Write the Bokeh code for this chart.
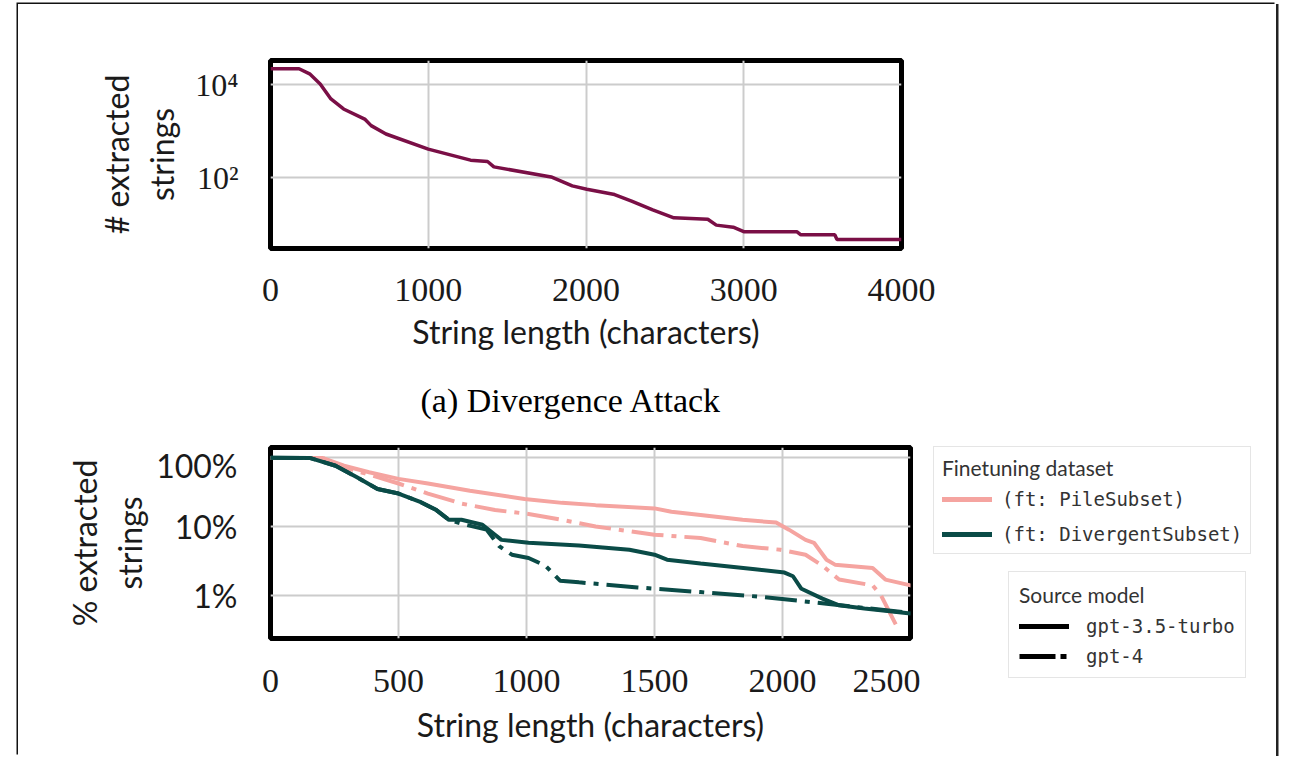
from bokeh.plotting import figure
from bokeh.models import FixedTicker, Legend, LegendItem, Title, Range1d, Spacer
from bokeh.layouts import column, row
from bokeh.embed import file_html
from bokeh.resources import INLINE

# ---- data: (a) divergence attack ----
top_len = [0, 181, 248, 315, 383, 463, 597, 638, 732, 1000, 1268, 1376, 1416, 1779, 1913,
           2005, 2181, 2289, 2423, 2557, 2772, 2826, 2933, 3000, 3336, 3362, 3577, 3591, 4000]
top_count = [22300, 22300, 17300, 10500, 4980, 3020, 1830, 1320, 870, 410, 237, 222, 170, 103, 66,
             56, 43, 31, 20, 13.5, 12.6, 9.4, 8.5, 6.8, 6.8, 5.8, 5.8, 4.6, 4.6]

# ---- data: finetuning ----
pile35_len = [0, 205, 287, 385, 500, 615, 779, 992, 1139, 1270, 1500, 1566, 1680, 1844, 1975,
              2025, 2090, 2123, 2172, 2205, 2352, 2402, 2500]
pile35_pct = [98, 98, 76, 61, 49, 42, 33, 25, 22, 20.4, 18.3, 16.4, 14.7, 12.5, 11.4,
              9.0, 6.4, 5.8, 3.3, 2.8, 2.5, 1.7, 1.4]
pile4_len = [0, 205, 287, 418, 500, 615, 746, 877, 1008, 1139, 1270, 1500, 1680, 1844, 1992,
             2090, 2156, 2221, 2352, 2385, 2451]
pile4_pct = [98, 98, 72, 52, 42, 30, 21.5, 17.3, 15.2, 12.5, 10, 7.6, 6.8, 5.2, 4.6,
             3.9, 2.7, 1.7, 1.4, 1.0, 0.33]
div35_len = [0, 156, 254, 336, 418, 500, 582, 648, 697, 746, 828, 877, 902, 1008, 1205, 1402,
             1500, 1549, 1680, 1893, 2008, 2041, 2074, 2156, 2221, 2320, 2500]
div35_pct = [99, 98, 76, 52, 35, 30, 23, 17.3, 12.5, 12.5, 10.6, 7.6, 6.4, 5.8, 5.3, 4.6,
             3.9, 3.3, 2.9, 2.4, 2.15, 1.9, 1.25, 0.9, 0.72, 0.65, 0.55]
div4_len = [0, 156, 254, 336, 418, 500, 582, 648, 697, 762, 844, 893, 943, 1008, 1074, 1131,
            1205, 1434, 1680, 1926, 2172, 2336, 2500]
div4_pct = [99, 98, 76, 52, 35, 30, 23, 17.3, 12.5, 10.6, 9.0, 5.2, 3.9, 3.5, 2.7, 1.64,
            1.55, 1.31, 1.12, 0.95, 0.76, 0.65, 0.56]

top_xticks = [0, 1000, 2000, 3000, 4000]
top_yticks = {100: "10²", 10000: "10⁴"}
bot_xticks = [0, 500, 1000, 1500, 2000, 2500]
bot_yticks = {1: "1%", 10: "10%", 100: "100%"}

MAROON = "#7a0f46"
PINK = "#f5a4a0"
TEAL = "#0a4b47"
TXT = "#1a1a1a"
SANS = "Lato"
SERIF = "Liberation Serif"
MONO = "DejaVu Sans Mono"


def style(p, xticks, yticks, ysans, ystandoff, ylabstandoff, xstandoff, xlabstandoff):
    p.outline_line_color = "black"
    p.outline_line_width = 5
    for ax in (p.xaxis[0], p.yaxis[0]):
        ax.axis_line_color = None
        ax.major_tick_line_color = None
        ax.minor_tick_line_color = None
        ax.major_label_text_color = TXT
        ax.axis_label_text_color = TXT
        ax.axis_label_text_font = SANS
        ax.axis_label_text_font_style = "normal"
        ax.axis_label_text_font_size = "32px"
        ax.axis_label_text_line_height = 1.15
    p.xaxis[0].ticker = FixedTicker(ticks=xticks)
    p.xaxis[0].major_label_text_font = SERIF
    p.xaxis[0].major_label_text_font_size = "34px"
    p.xaxis[0].major_label_standoff = xstandoff
    p.xaxis[0].axis_label_standoff = xlabstandoff
    p.yaxis[0].ticker = FixedTicker(ticks=list(yticks.keys()))
    p.yaxis[0].major_label_overrides = yticks
    p.yaxis[0].major_label_text_font = SANS if ysans else SERIF
    p.yaxis[0].major_label_text_font_size = "32px"
    p.yaxis[0].major_label_standoff = ystandoff
    p.yaxis[0].axis_label_standoff = ylabstandoff
    p.xgrid.grid_line_color = "#cccccc"
    p.ygrid.grid_line_color = "#cccccc"
    p.xgrid.grid_line_width = 2
    p.ygrid.grid_line_width = 2
    p.background_fill_color = "white"
    p.border_fill_color = "white"


p1 = figure(frame_width=631, frame_height=188, min_border_left=252, min_border_right=375,
            min_border_top=56, min_border_bottom=150, y_axis_type="log",
            x_range=Range1d(0, 4000), y_range=Range1d(2.94, 33600),
            output_backend="svg", toolbar_location=None)
p1.line(top_len, top_count, color=MAROON, line_width=3.5)
p1.xaxis[0].axis_label = "String length (characters)"
p1.yaxis[0].axis_label = "# extracted\nstrings"
style(p1, top_xticks, top_yticks, False, 26, 11, 24, 8)
p1.add_layout(Title(text="(a) Divergence Attack", align="left", offset=150,
                    text_font=SERIF, text_font_size="34px", text_font_style="normal",
                    text_color="black", standoff=53), "below")

p2 = figure(frame_width=640, frame_height=191, min_border_left=252, min_border_right=10,
            min_border_top=2, min_border_bottom=108, y_axis_type="log",
            x_range=Range1d(0, 2500), y_range=Range1d(0.238, 139.6),
            output_backend="svg", toolbar_location=None)
p2.line(pile35_len, pile35_pct, color=PINK, line_width=4, line_cap="round")
p2.line(pile4_len, pile4_pct, color=PINK, line_width=4, line_dash="32 8 5 8")
p2.line(div35_len, div35_pct, color=TEAL, line_width=4, line_cap="round")
p2.line(div4_len, div4_pct, color=TEAL, line_width=4, line_dash="32 8 5 8")
p2.xaxis[0].axis_label = "String length (characters)"
p2.yaxis[0].axis_label = "% extracted\nstrings"
style(p2, bot_xticks, bot_yticks, True, 27, 4, 25, 10)

# legend panel (separate canvas to the right of the lower plot)
pl = figure(width=356, height=301, min_border=0, min_border_left=0, min_border_right=0,
            min_border_top=0, min_border_bottom=0,
            x_axis_location=None, y_axis_location=None,
            x_range=Range1d(0, 1), y_range=Range1d(0, 1),
            output_backend="svg", toolbar_location=None)
pl.frame_align = False
pl.outline_line_color = None
pl.xgrid.visible = False
pl.ygrid.visible = False
pl.background_fill_color = "white"
pl.border_fill_color = "white"
# legend handles: placeholders lying outside the visible range
hx = [-2, -1]
hy = [-2, -2]
h_pile = pl.line(hx, hy, color=PINK, line_width=5, line_cap="round")
h_div = pl.line(hx, hy, color=TEAL, line_width=5, line_cap="round")
h_35 = pl.line(hx, hy, color="black", line_width=5, line_cap="round")
h_4 = pl.line(hx, hy, color="black", line_width=5, line_dash="36 5 6 5")


def mk_legend(title, items, loc, spacing, standoff, padding):
    return Legend(items=items, title=title, location=loc,
                  border_line_color="#cccccc", border_line_width=1.5,
                  background_fill_color="white", background_fill_alpha=1.0,
                  padding=padding, margin=0, spacing=spacing, label_standoff=standoff,
                  glyph_width=50, glyph_height=22, label_height=22,
                  title_standoff=8,
                  title_text_font=SANS, title_text_font_size="21px",
                  title_text_font_style="normal", title_text_color="#333333",
                  label_text_font=MONO, label_text_font_size="19px",
                  label_text_color="#333333")


leg1 = mk_legend("Finetuning dataset",
                 [LegendItem(label="(ft: PileSubset)", renderers=[h_pile]),
                  LegendItem(label="(ft: DivergentSubset)", renderers=[h_div])],
                 (13, 192), 13, 10, 8)
leg2 = mk_legend("Source model",
                 [LegendItem(label="gpt-3.5-turbo", renderers=[h_35]),
                  LegendItem(label="gpt-4", renderers=[h_4])],
                 (88, 68), 8, 17, 10)
pl.add_layout(leg1)
pl.add_layout(leg2)

inner = column(p1, row(p2, pl, spacing=0), Spacer(height=10), spacing=0,
               styles={"transform": "translateX(18px)",
                       "box-shadow": "-1.5px -1.5px 0 0 #111, 2.5px 0 0 0 #222"})
layout = column(Spacer(height=4), inner, spacing=0)

open("out.html", "w").write(file_html(layout, INLINE))
